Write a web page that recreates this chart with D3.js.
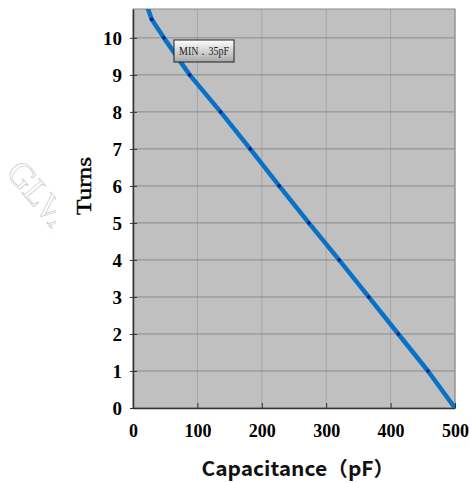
<!DOCTYPE html>
<html>
<head>
<meta charset="utf-8">
<script src="https://cdn.jsdelivr.net/npm/d3@7"></script>
<style>
  body { margin: 0; background: #fff; }
</style>
</head>
<body>
<svg id="chart" width="470" height="483"></svg>
<script>
// Turns vs capacitance curve
var capacitance = [19, 29, 48, 88, 136, 182, 227, 273, 320, 366, 412, 458, 500];
var turns       = [11, 10.5, 10, 9, 8, 7, 6, 5, 4, 3, 2, 1, 0];
var xTicks = [0, 100, 200, 300, 400, 500];
var yTicks = [0, 1, 2, 3, 4, 5, 6, 7, 8, 9, 10];
var noteText = "MIN．35pF";

var Left = 133, Right = 455, Top = 9, Bottom = 408;

var svg = d3.select("#chart");
var x = d3.scaleLinear().domain([0, 500]).range([Left, Right]);
var y = d3.scaleLinear().domain([0, 10.78]).range([Bottom, Top]);

// watermark, mostly hidden
var defs = svg.append("defs");
defs.append("clipPath").attr("id", "wmclip")
  .append("rect").attr("x", 0).attr("y", 0).attr("width", 56).attr("height", 483);
defs.append("clipPath").attr("id", "plotclip")
  .append("rect").attr("x", Left).attr("y", Top).attr("width", Right - Left).attr("height", Bottom - Top);
var grad = defs.append("linearGradient").attr("id", "boxgrad")
  .attr("x1", 0).attr("y1", 0).attr("x2", 0).attr("y2", 1);
grad.append("stop").attr("offset", "0%").attr("stop-color", "#ffffff");
grad.append("stop").attr("offset", "100%").attr("stop-color", "#a8a8a8");

svg.append("g").attr("clip-path", "url(#wmclip)")
  .append("text")
    .attr("transform", "translate(5,173) rotate(50)")
    .style("font", "35px 'Liberation Serif'")
    .style("fill", "none")
    .style("stroke", "#c4c4c4")
    .style("stroke-width", 0.6)
    .text("GLVAC");

// plot background
svg.append("rect")
  .attr("x", Left).attr("y", Top)
  .attr("width", Right - Left).attr("height", Bottom - Top)
  .style("fill", "#c0c0c0");

// grid
svg.selectAll("line.vgrid")
  .data(xTicks.slice(1))
  .enter().append("line")
    .attr("class", "vgrid")
    .attr("x1", function(d) { return x(d); }).attr("x2", function(d) { return x(d); })
    .attr("y1", Top).attr("y2", Bottom)
    .style("stroke", "#a6a6a6").style("stroke-width", 1);

svg.selectAll("line.hgrid")
  .data(yTicks.slice(1))
  .enter().append("line")
    .attr("class", "hgrid")
    .attr("x1", Left).attr("x2", Right)
    .attr("y1", function(d) { return y(d); }).attr("y2", function(d) { return y(d); })
    .style("stroke", "#8a8a8a").style("stroke-width", 1);

// frame
svg.append("rect")
  .attr("x", Left).attr("y", Top)
  .attr("width", Right - Left).attr("height", Bottom - Top)
  .style("fill", "none").style("stroke", "#8a8a8a").style("stroke-width", 1);

// axes
var yAxis = d3.axisLeft(y).tickValues(yTicks).tickSizeInner(-4).tickSizeOuter(0).tickPadding(11);
var gy = svg.append("g").attr("transform", "translate(" + Left + ",0)").call(yAxis);
gy.select(".domain").style("stroke", "#333").style("stroke-width", 1.5);
gy.selectAll(".tick line").attr("x1", -3).attr("x2", 4).style("stroke", "#333");
gy.selectAll(".tick text")
  .style("font", "bold 19px 'Liberation Serif'")
  .style("fill", "#000")
  .attr("dy", "0.36em")
  .attr("textLength", function(d) { return String(d).length * 9.5; })
  .attr("lengthAdjust", "spacingAndGlyphs");

var xAxis = d3.axisBottom(x).tickValues(xTicks).tickSizeInner(-5).tickSizeOuter(0).tickPadding(16);
var gx = svg.append("g").attr("transform", "translate(0," + Bottom + ")").call(xAxis);
gx.select(".domain").style("stroke", "#333").style("stroke-width", 1.5);
gx.selectAll(".tick line").style("stroke", "#333");
gx.selectAll(".tick text")
  .style("font", "bold 19px 'Liberation Serif'")
  .style("fill", "#000")
  .attr("textLength", function(d) { return String(d).length * 9; })
  .attr("lengthAdjust", "spacingAndGlyphs");

// curve
var pts = capacitance.map(function(c, i) { return [c, turns[i]]; });
var line = d3.line().x(function(d) { return x(d[0]); }).y(function(d) { return y(d[1]); });
var g = svg.append("g").attr("clip-path", "url(#plotclip)");
g.append("path")
  .datum(pts)
  .attr("d", line)
  .style("fill", "none")
  .style("stroke", "#0a72c4")
  .style("stroke-width", 4.5)
  .style("stroke-linejoin", "round");

g.selectAll("circle")
  .data(pts.slice(1, -1))
  .enter().append("circle")
    .attr("cx", function(d) { return x(d[0]); })
    .attr("cy", function(d) { return y(d[1]); })
    .attr("r", 1.8)
    .style("fill", "#0a1f8a");

// annotation box
var note = svg.append("g").attr("transform", "translate(174,40)");
note.append("rect")
  .attr("width", 60).attr("height", 22)
  .style("fill", "url(#boxgrad)")
  .style("stroke", "#222").style("stroke-width", 1);
note.append("text")
  .attr("x", 30).attr("y", 15)
  .attr("text-anchor", "middle")
  .attr("textLength", 50).attr("lengthAdjust", "spacingAndGlyphs")
  .style("font", "12px 'Liberation Serif'")
  .style("fill", "#222")
  .text(noteText);

// axis titles
svg.append("text")
  .attr("transform", "translate(91,186) rotate(-90)")
  .attr("text-anchor", "middle")
  .attr("textLength", 58).attr("lengthAdjust", "spacingAndGlyphs")
  .style("font", "21px 'Liberation Serif'")
  .style("stroke", "#000").style("stroke-width", 0.4)
  .style("fill", "#000")
  .text("Turns");

svg.append("text")
  .attr("x", 298).attr("y", 476)
  .attr("text-anchor", "middle")
  .attr("textLength", 193).attr("lengthAdjust", "spacingAndGlyphs")
  .style("font", "bold 20px 'Noto Sans CJK SC'")
  .style("fill", "#111")
  .text("Capacitance（pF）");
</script>
</body>
</html>
